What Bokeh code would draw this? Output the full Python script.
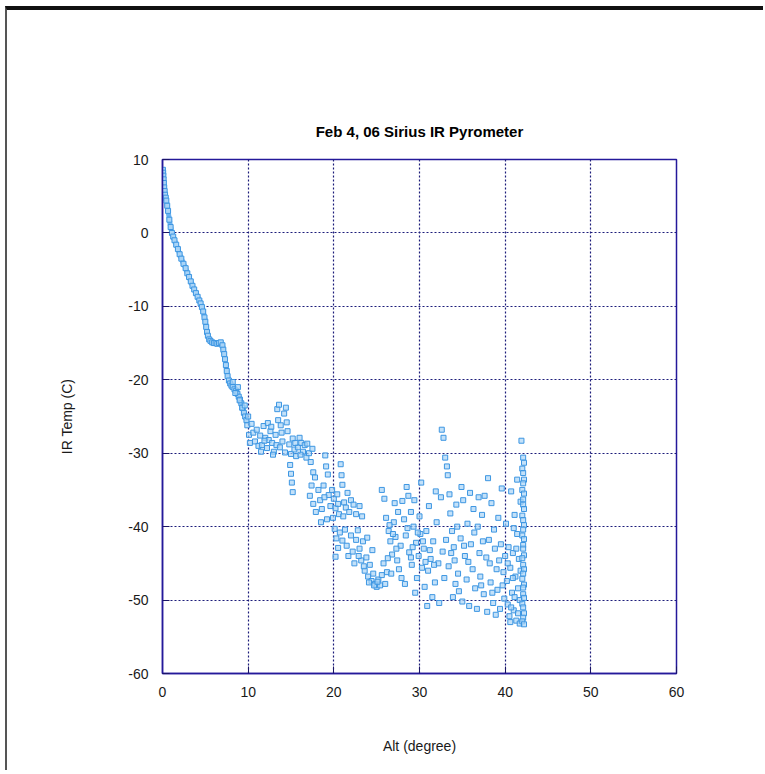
from bokeh.plotting import figure
from bokeh.models import Range1d, FixedTicker
from bokeh.embed import file_html
from bokeh.resources import INLINE

# ---------------- data ----------------
x_ticks = [0, 10, 20, 30, 40, 50, 60]
y_ticks = [-60, -50, -40, -30, -20, -10, 0, 10]
y_tick_labels = ["-60", "-50", "-40", "-30", "-20", "-10", "0", "10"]

alt_curve = [0.05, 0.08, 0.1, 0.13, 0.16, 0.2, 0.25, 0.3, 0.38, 0.45,
             0.55, 0.65, 0.8, 0.95, 1.1, 1.25, 1.4, 1.6, 1.8, 2.0,
             2.2, 2.45, 2.7, 2.9, 3.1, 3.3, 3.5, 3.7, 3.9, 4.1,
             4.3, 4.45, 4.6, 4.75, 4.9, 5.0, 5.1, 5.2, 5.3, 5.45,
             5.6, 5.8, 6.0, 6.2, 6.4, 6.6, 6.8, 7.0, 7.1, 7.2,
             7.3, 7.4, 7.5, 7.6, 7.75, 7.9, 8.05, 8.2, 8.4, 8.6,
             8.75, 8.9, 9.05, 9.2, 9.35, 9.5, 9.65, 9.8]
temp_curve = [8.6, 8.2, 7.8, 7.3, 6.8, 6.2, 5.7, 5.2, 4.8, 4.4,
              3.7, 3.0, 1.8, 0.8, 0.0, -0.5, -1.0, -1.6, -2.2, -2.9,
              -3.5, -4.2, -4.8, -5.5, -6.0, -6.6, -7.2, -7.7, -8.2, -8.7,
              -9.2, -9.6, -10.1, -10.7, -11.5, -12.1, -12.8, -13.5, -14.0, -14.5,
              -14.7, -14.9, -15.0, -15.0, -15.1, -15.0, -14.9, -15.3, -15.9, -16.5,
              -17.2, -18.0, -18.8, -19.5, -20.1, -20.5, -20.8, -21.0, -21.3, -21.5,
              -21.9, -22.3, -22.7, -23.2, -23.8, -24.5, -25.0, -25.5]

pts_08_10 = [(8.2, -20.3), (8.5, -21.8), (8.8, -21.0), (9.0, -22.8), (9.3, -23.8),
             (9.6, -23.5), (9.9, -26.2), (10.1, -27.5), (10.2, -28.6), (10.0, -25.0)]

pts_10_17 = [(10.4, -26.0), (10.6, -27.2), (10.8, -28.4), (11.0, -26.8), (11.2, -29.0),
             (11.4, -27.6), (11.6, -28.9), (11.8, -26.3), (12.0, -27.9), (12.2, -29.3),
             (12.4, -28.2), (12.6, -27.0), (12.8, -28.6), (13.0, -29.8), (13.2, -27.5),
             (13.4, -24.0), (13.5, -25.5), (13.6, -23.4), (13.8, -26.2), (14.0, -28.4),
             (14.2, -24.6), (14.4, -23.8), (14.5, -25.8), (14.6, -27.0), (14.8, -28.8),
             (15.0, -30.1), (15.2, -28.0), (15.4, -29.5), (15.6, -30.4), (15.8, -29.2),
             (16.0, -27.9), (16.2, -28.6), (16.4, -29.8), (16.6, -28.9), (16.8, -30.6),
             (14.9, -31.6), (15.0, -32.8), (15.1, -34.0), (15.2, -35.3), (12.9, -30.2),
             (13.3, -28.9), (11.5, -29.8), (12.3, -25.9), (13.7, -29.2), (14.3, -29.9),
             (12.7, -26.4), (11.9, -28.3), (15.5, -28.6), (16.1, -30.2), (13.9, -27.2)]

pts_17_23 = [(16.9, -28.7), (17.1, -30.0), (17.3, -31.2), (17.5, -29.4), (17.6, -32.6),
             (17.8, -33.3), (17.4, -34.4), (17.2, -35.8), (17.6, -36.9), (17.9, -38.0),
             (18.2, -35.0), (18.4, -36.4), (18.6, -37.6), (18.8, -34.4), (19.0, -30.3),
             (19.1, -31.8), (19.3, -32.9), (19.4, -35.7), (19.6, -37.2), (19.2, -39.0),
             (18.5, -39.4), (19.8, -35.0), (20.0, -36.2), (20.2, -37.5), (20.4, -35.6),
             (20.6, -38.3), (20.8, -31.5), (20.9, -33.0), (21.0, -34.3), (21.2, -36.7),
             (21.4, -37.4), (21.6, -35.4), (21.8, -38.0), (22.0, -36.4), (22.3, -37.0),
             (22.6, -38.3), (23.0, -37.2), (23.3, -38.6), (19.9, -38.8), (20.5, -36.9),
             (21.1, -38.6), (18.9, -36.0)]

pts_20_26 = [(20.1, -40.3), (20.3, -41.6), (20.5, -42.9), (20.2, -44.1), (20.7, -40.8),
             (21.0, -41.9), (21.3, -40.4), (21.5, -42.6), (21.7, -44.0), (22.0, -41.2),
             (22.2, -43.4), (22.4, -45.0), (22.6, -41.8), (22.8, -40.5), (23.0, -43.0),
             (23.2, -44.6), (23.4, -42.0), (23.6, -46.0), (23.8, -44.2), (24.0, -46.8),
             (24.2, -45.2), (24.4, -47.4), (24.6, -46.4), (24.8, -47.8), (25.0, -48.2),
             (25.2, -47.2), (25.4, -48.0), (25.6, -46.6), (25.8, -45.0), (26.0, -47.8),
             (26.2, -46.2), (24.5, -43.2), (23.9, -41.5), (24.1, -47.6), (24.7, -48.0),
             (25.1, -47.5), (23.5, -45.4), (22.9, -44.0)]

pts_25_28 = [(25.6, -35.0), (25.9, -36.2), (26.1, -38.8), (26.4, -40.6), (26.6, -42.0),
             (26.8, -43.8), (27.0, -39.4), (27.2, -41.4), (27.4, -44.6), (27.6, -45.8),
             (27.8, -42.6), (26.3, -44.3), (27.1, -36.8), (27.5, -38.0), (26.7, -46.4),
             (27.9, -47.0), (26.9, -41.0), (27.3, -43.0), (26.5, -39.8)]

pts_28_32 = [(28.0, -36.5), (28.2, -39.0), (28.4, -41.2), (28.5, -34.6), (28.7, -35.8),
             (28.8, -43.5), (29.0, -38.0), (29.1, -45.2), (29.3, -40.0), (29.4, -36.4),
             (29.6, -42.2), (29.7, -47.0), (29.9, -44.0), (30.0, -38.6), (30.1, -41.0),
             (30.3, -45.6), (30.5, -43.0), (30.6, -48.2), (30.8, -40.6), (31.0, -46.0),
             (31.1, -37.2), (31.3, -44.4), (31.5, -49.6), (31.6, -42.0), (31.8, -47.6),
             (32.0, -39.4), (32.2, -45.0), (32.3, -50.4), (32.5, -36.0), (32.7, -43.4),
             (28.3, -47.8), (29.5, -49.0), (30.9, -50.8), (31.9, -35.2), (30.2, -34.0),
             (28.6, -40.2), (29.2, -42.8), (29.8, -40.8), (30.4, -42.0), (31.2, -43.2),
             (31.7, -45.2), (30.7, -44.8), (29.0, -44.2)]

pts_32_37 = [(32.6, -26.8), (32.8, -27.9), (33.0, -30.6), (33.2, -31.8), (33.3, -33.0),
             (33.5, -35.6), (33.6, -38.2), (33.8, -40.6), (34.0, -42.8), (34.1, -44.6),
             (34.3, -37.0), (34.5, -46.4), (34.6, -48.8), (34.8, -41.6), (35.0, -50.2),
             (35.1, -36.4), (35.3, -44.0), (35.5, -47.2), (35.6, -39.6), (35.8, -50.8),
             (36.0, -42.4), (36.2, -45.8), (36.3, -37.6), (36.5, -48.4), (36.7, -51.2),
             (33.9, -49.6), (33.4, -45.4), (34.9, -34.6), (32.9, -47.0), (35.9, -35.4),
             (33.1, -41.8), (34.4, -40.0), (35.2, -42.6), (35.7, -44.8), (36.4, -40.8),
             (34.2, -47.8), (33.7, -43.6)]

pts_37_40 = [(36.8, -40.0), (37.0, -43.6), (37.1, -46.8), (37.3, -38.4), (37.5, -49.2),
             (37.6, -35.8), (37.8, -44.2), (38.0, -33.4), (38.1, -41.8), (38.3, -47.6),
             (38.4, -36.8), (38.6, -50.4), (38.8, -43.0), (39.0, -45.8), (39.1, -48.6),
             (39.2, -38.8), (39.4, -51.2), (39.5, -42.4), (39.6, -34.8), (39.8, -46.2),
             (39.9, -49.8), (40.0, -44.0), (37.9, -51.6), (36.9, -36.0), (38.9, -52.0),
             (37.4, -42.0), (38.2, -45.0), (38.7, -40.4), (39.3, -44.6), (39.7, -48.0),
             (37.2, -48.0), (38.5, -49.0)]

pts_40_42 = [(40.1, -39.6), (40.2, -47.4), (40.3, -50.6), (40.4, -42.8), (40.5, -52.2),
             (40.6, -45.6), (40.7, -35.2), (40.8, -49.0), (40.9, -43.6), (41.0, -51.4),
             (41.1, -38.4), (41.2, -46.8), (41.3, -52.8), (41.4, -41.0), (41.5, -48.4),
             (41.6, -44.4), (41.7, -50.0), (41.8, -36.6), (41.9, -28.3), (41.0, -40.2),
             (40.6, -53.0), (41.4, -33.6), (40.9, -47.0), (41.7, -53.2), (40.3, -45.0),
             (41.1, -49.6), (41.5, -51.8), (40.7, -51.0), (41.3, -43.0), (41.8, -46.0)]

pts_column = [(42.1, -30.6), (42.2, -31.3), (42.0, -32.1), (42.1, -32.7), (42.2, -33.6),
              (42.1, -34.1), (42.0, -35.0), (42.2, -35.5), (42.1, -36.3), (42.1, -37.0),
              (42.2, -37.6), (42.0, -38.5), (42.1, -39.1), (42.2, -39.8), (42.1, -40.4),
              (42.0, -41.2), (42.2, -41.7), (42.1, -42.5), (42.1, -43.0), (42.2, -43.9),
              (42.0, -44.3), (42.1, -45.2), (42.2, -45.8), (42.1, -46.4), (42.0, -47.1),
              (42.2, -47.9), (42.1, -48.3), (42.1, -49.2), (42.2, -49.7), (42.0, -50.5),
              (42.1, -51.0), (42.2, -51.8), (42.1, -52.4), (42.0, -52.9), (42.2, -53.3)]

scatter_groups = [pts_08_10, pts_10_17, pts_17_23, pts_20_26, pts_25_28,
                  pts_28_32, pts_32_37, pts_37_40, pts_40_42, pts_column]

alt_scatter = [a for g in scatter_groups for (a, t) in g]
temp_scatter = [t for g in scatter_groups for (a, t) in g]

# ---------------- figure ----------------
FONT = "Liberation Sans"
NAVY = "#24199a"

p = figure(width=758, height=764, output_backend="svg", toolbar_location=None,
           x_range=Range1d(0, 60), y_range=Range1d(-60, 10),
           title="Feb 4, 06 Sirius IR Pyrometer",
           min_border_left=155, min_border_right=89,
           min_border_top=149, min_border_bottom=101,
           background_fill_color="white", border_fill_color="white",
           styles={"border-top": "4px solid #111111", "border-left": "2px solid #555555",
                   "margin-top": "6px", "margin-left": "5px"})

p.title.align = "center"
p.title.text_font = FONT
p.title.text_font_size = "15px"
p.title.text_font_style = "bold"
p.title.text_color = "#000000"
p.title.standoff = 39

p.outline_line_color = NAVY
p.outline_line_width = 1.5
p.outline_line_alpha = 1.0

for ax in (p.xaxis[0], p.yaxis[0]):
    ax.axis_line_color = NAVY
    ax.axis_line_width = 1.5
    ax.major_tick_in = 7
    ax.major_tick_out = 0
    ax.minor_tick_line_color = None
    ax.major_tick_line_color = "#1a1466"
    ax.major_label_text_font = FONT
    ax.major_label_text_font_size = "14px"
    ax.major_label_text_color = "#1a1a1a"
    ax.axis_label_text_font = FONT
    ax.axis_label_text_font_size = "14px"
    ax.axis_label_text_font_style = "normal"
    ax.axis_label_text_color = "#1a1a1a"

p.xaxis.ticker = FixedTicker(ticks=x_ticks)
p.yaxis.ticker = FixedTicker(ticks=y_ticks)
p.yaxis.major_label_overrides = {t: s for t, s in zip(y_ticks, y_tick_labels)}
p.xaxis.axis_label = "Alt (degree)"
p.yaxis.axis_label = "IR Temp (C)"
p.xaxis.major_label_standoff = 13
p.yaxis.major_label_standoff = 14
p.xaxis.axis_label_standoff = 38
p.yaxis.axis_label_standoff = 50

for g in (p.xgrid[0], p.ygrid[0]):
    g.grid_line_color = "#1c1c7a"
    g.grid_line_dash = "2 2"
    g.grid_line_width = 1.2

# data
p.line(alt_curve, temp_curve, line_color="#5aaaf0", line_width=5, line_alpha=0.9)
p.scatter(alt_curve, temp_curve, marker="square", size=5,
          line_color="#3d96e2", fill_color="#a9d4f7", line_width=1)
p.scatter(alt_scatter, temp_scatter, marker="square", size=5,
          line_color="#3d96e2", fill_color="#a9d4f7", fill_alpha=0.7, line_width=1)

open("out.html", "w").write(file_html(p, INLINE))
